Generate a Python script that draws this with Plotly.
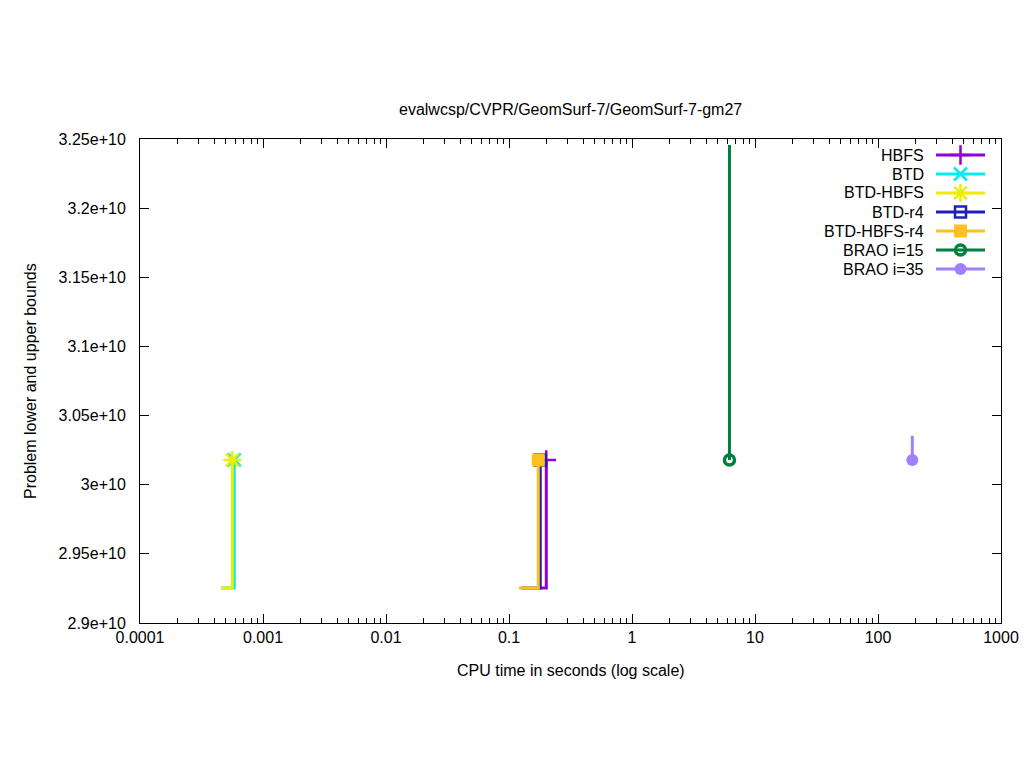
import plotly.graph_objects as go

# ---------------- data ----------------
solvers = ["HBFS", "BTD", "BTD-HBFS", "BTD-r4", "BTD-HBFS-r4", "BRAO i=15", "BRAO i=35"]
colors = ["#9400d3", "#00eeee", "#eeee00", "#2020b8", "#ffc020", "#008040", "#a080ff"]
symbols = ["cross-thin-open", "x-thin-open", "asterisk-open", "square-open", "square", "circle-open", "circle"]

# CPU time (s) and bound values for each solver (step curves, last point = final bound)
hbfs_t = [0.1786, 0.201]
hbfs_v = [2.9253e10, 3.0179e10]
btd_t = [0.00046, 0.000584]
btd_v = [2.9253e10, 3.0179e10]
btdhbfs_t = [0.000455, 0.000563]
btdhbfs_v = [2.9253e10, 3.0179e10]
btdr4_t = [0.125, 0.1795]
btdr4_v = [2.9253e10, 3.0179e10]
btdhbfsr4_t = [0.1205, 0.173]
btdhbfsr4_v = [2.9253e10, 3.0179e10]
brao15_t = [6.2, 6.2]
brao15_v = [3.2457e10, 3.0179e10]
brao35_t = [190, 190]
brao35_v = [3.0354e10, 3.0179e10]

times = [hbfs_t, btd_t, btdhbfs_t, btdr4_t, btdhbfsr4_t, brao15_t, brao35_t]
values = [hbfs_v, btd_v, btdhbfs_v, btdr4_v, btdhbfsr4_v, brao15_v, brao35_v]

x_tick_vals = [0.0001, 0.001, 0.01, 0.1, 1, 10, 100, 1000]
x_tick_text = ["0.0001", "0.001", "0.01", "0.1", "1", "10", "100", "1000"]
y_tick_vals = [2.9e10, 2.95e10, 3.0e10, 3.05e10, 3.1e10, 3.15e10, 3.2e10, 3.25e10]
y_tick_text = ["2.9e+10", "2.95e+10", "3e+10", "3.05e+10", "3.1e+10", "3.15e+10", "3.2e+10", "3.25e+10"]

title = "evalwcsp/CVPR/GeomSurf-7/GeomSurf-7-gm27"
x_label = "CPU time in seconds (log scale)"
y_label = "Problem lower and upper bounds"

# ---------------- style ----------------
FONT = "Liberation Sans, Arial, sans-serif"
FS = 16
msize = [14, 13, 15, 11, 13, 10, 12]
mline = [2.5, 2.5, 2.5, 2.5, 0, 3.5, 0]

fig = go.Figure()

for name, t, v, c, s, ms, ml in zip(solvers, times, values, colors, symbols, msize, mline):
    fig.add_trace(go.Scatter(
        x=t, y=v, mode="lines", line=dict(color=c, width=3, shape="hv"),
        showlegend=False, hoverinfo="skip"))
    fig.add_trace(go.Scatter(
        x=[t[-1]], y=[v[-1]], mode="markers",
        marker=dict(symbol=s, size=ms, color=c, line=dict(color=c, width=ml)),
        showlegend=False, name=name))

# ---------------- custom gnuplot-like legend (overlay axes in plot fractions) ----------------
PL, PR, PT, PB = 140, 1001, 139, 623
W, H = PR - PL, PB - PT
leg_y0, leg_dy = 155, 19.0
leg_text_x, leg_x0, leg_x1 = 926, 936, 985
for i, (name, c, s, ms, ml) in enumerate(zip(solvers, colors, symbols, msize, mline)):
    yy = (PB - (leg_y0 + i * leg_dy)) / H
    xa = (leg_x0 - PL) / W
    xb = (leg_x1 - PL) / W
    xm = (xa + xb) / 2
    fig.add_trace(go.Scatter(
        x=[xa, xb], y=[yy, yy], mode="lines", line=dict(color=c, width=3),
        xaxis="x2", yaxis="y2", showlegend=False, hoverinfo="skip"))
    fig.add_trace(go.Scatter(
        x=[xm], y=[yy], mode="markers",
        marker=dict(symbol=s, size=ms, color=c, line=dict(color=c, width=ml)),
        xaxis="x2", yaxis="y2", showlegend=False, hoverinfo="skip"))
    fig.add_annotation(
        x=(leg_text_x - PL) / W, y=yy, xref="paper", yref="paper",
        text=name, showarrow=False, xanchor="right", yanchor="middle",
        font=dict(family=FONT, size=FS, color="black"))

axis_common = dict(
    showline=True, linecolor="black", linewidth=1, mirror="ticks",
    ticks="inside", tickcolor="black", tickwidth=1, showgrid=False, zeroline=False,
    tickfont=dict(family=FONT, size=FS, color="black"),
)

fig.update_layout(
    width=1024, height=768, autosize=False,
    margin=dict(l=PL, r=1024 - PR, t=PT, b=768 - PB, pad=0),
    paper_bgcolor="white", plot_bgcolor="white",
    font=dict(family=FONT, size=FS, color="black"),
    xaxis=dict(type="log", range=[-4, 3], tickvals=x_tick_vals, ticktext=x_tick_text,
               ticklen=9, ticklabelstandoff=0, automargin=False,
               minor=dict(ticks="inside", ticklen=5, tickcolor="black", tickwidth=1, dtick="D1", showgrid=False),
               **axis_common),
    yaxis=dict(range=[2.9e10, 3.25e10], tickvals=y_tick_vals, ticktext=y_tick_text,
               ticklen=9, ticklabelstandoff=10, automargin=False, **axis_common),
    xaxis2=dict(overlaying="x", range=[0, 1], visible=False, fixedrange=True),
    yaxis2=dict(overlaying="y", range=[0, 1], visible=False, fixedrange=True),
    showlegend=False,
    annotations=list(fig.layout.annotations) + [
        dict(text=title, x=0.5, y=(PB - 109) / H, xref="paper", yref="paper",
             showarrow=False, xanchor="center", yanchor="middle",
             font=dict(family=FONT, size=FS, color="black")),
        dict(text=x_label, x=0.5, y=(PB - 670) / H, xref="paper", yref="paper",
             showarrow=False, xanchor="center", yanchor="middle",
             font=dict(family=FONT, size=FS, color="black")),
        dict(text=y_label, x=(30 - PL) / W, y=(PB - 381) / H, xref="paper", yref="paper",
             showarrow=False, xanchor="center", yanchor="middle", textangle=-90,
             font=dict(family=FONT, size=FS, color="black")),
    ],
)

post = ("document.body.style.margin='0';document.body.style.overflow='hidden';"
        "var gd=document.getElementById('{plot_id}');"
        "Plotly.relayout(gd,{width:1024,height:768});")
fig.write_html("out.html", post_script=post,
               config={"responsive": False, "displayModeBar": False})
